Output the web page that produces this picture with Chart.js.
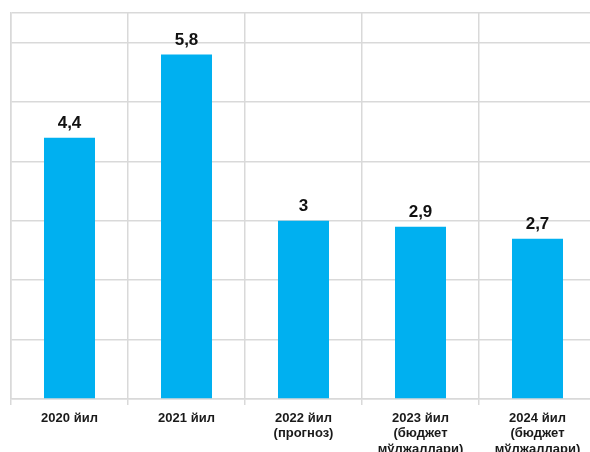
<!DOCTYPE html>
<html>
<head>
<meta charset="utf-8">
<script src="https://cdn.jsdelivr.net/npm/chart.js@4/dist/chart.umd.min.js"></script>
<style>
  html, body { margin: 0; padding: 0; background: #fff; overflow: hidden; }
  #wrap { width: 590px; height: 452px; overflow: hidden; }
</style>
</head>
<body>
<div id="wrap"><canvas id="canvas" width="600" height="452"></canvas></div>
<script>
// years and the values shown on top of the bars
var years = [
  ['2020 йил'],
  ['2021 йил'],
  ['2022 йил', '(прогноз)'],
  ['2023 йил', '(бюджет', 'мўлжаллари)'],
  ['2024 йил', '(бюджет', 'мўлжаллари)']
];
var values = [4.4, 5.8, 3, 2.9, 2.7];
var valueLabels = ['4,4', '5,8', '3', '2,9', '2,7'];

var yMin = 0;
var yMax = 6.5;
var yStep = 1;

// value labels above each bar
var barLabels = {
  id: 'barLabels',
  afterDatasetsDraw: function(chart) {
    var ctx = chart.ctx;
    var meta = chart.getDatasetMeta(0);
    ctx.save();
    ctx.font = 'bold 17px "Liberation Sans", Arial, sans-serif';
    ctx.fillStyle = '#111';
    ctx.textAlign = 'center';
    ctx.textBaseline = 'alphabetic';
    meta.data.forEach(function(bar, i) {
      ctx.fillText(valueLabels[i], bar.x, bar.y - 10);
    });
    ctx.restore();
  }
};

var ctx = document.getElementById('canvas');
var chart = new Chart(ctx, {
  type: 'bar',
  data: {
    labels: years,
    datasets: [{
      data: values,
      backgroundColor: '#00B0F0',
      borderWidth: 0,
      barPercentage: 0.436,
      categoryPercentage: 1
    }]
  },
  options: {
    responsive: false,
    animation: false,
    devicePixelRatio: 1,
    layout: { padding: { left: 11, top: 13, right: 4, bottom: 0 } },
    plugins: {
      legend: { display: false },
      tooltip: { enabled: false }
    },
    scales: {
      x: {
        grid: {
          offset: true,
          color: '#d9d9d9',
          lineWidth: 1.5,
          drawTicks: true,
          tickLength: 6
        },
        border: { color: '#d9d9d9', width: 1.5 },
        ticks: {
          color: '#1a1a1a',
          padding: 6,
          maxRotation: 0,
          autoSkip: false,
          font: { family: '"Liberation Sans", Arial, sans-serif', size: 13, weight: 'bold', lineHeight: 1.17 }
        },
        afterFit: function(scale) { scale.height = 53; }
      },
      y: {
        min: yMin,
        max: yMax,
        ticks: { stepSize: yStep, display: false },
        grid: { color: '#d9d9d9', lineWidth: 1.5, drawTicks: false },
        border: { color: '#d9d9d9', width: 1.5 },
        afterFit: function(scale) { scale.width = 0; }
      }
    }
  },
  plugins: [barLabels]
});
</script>
</body>
</html>
